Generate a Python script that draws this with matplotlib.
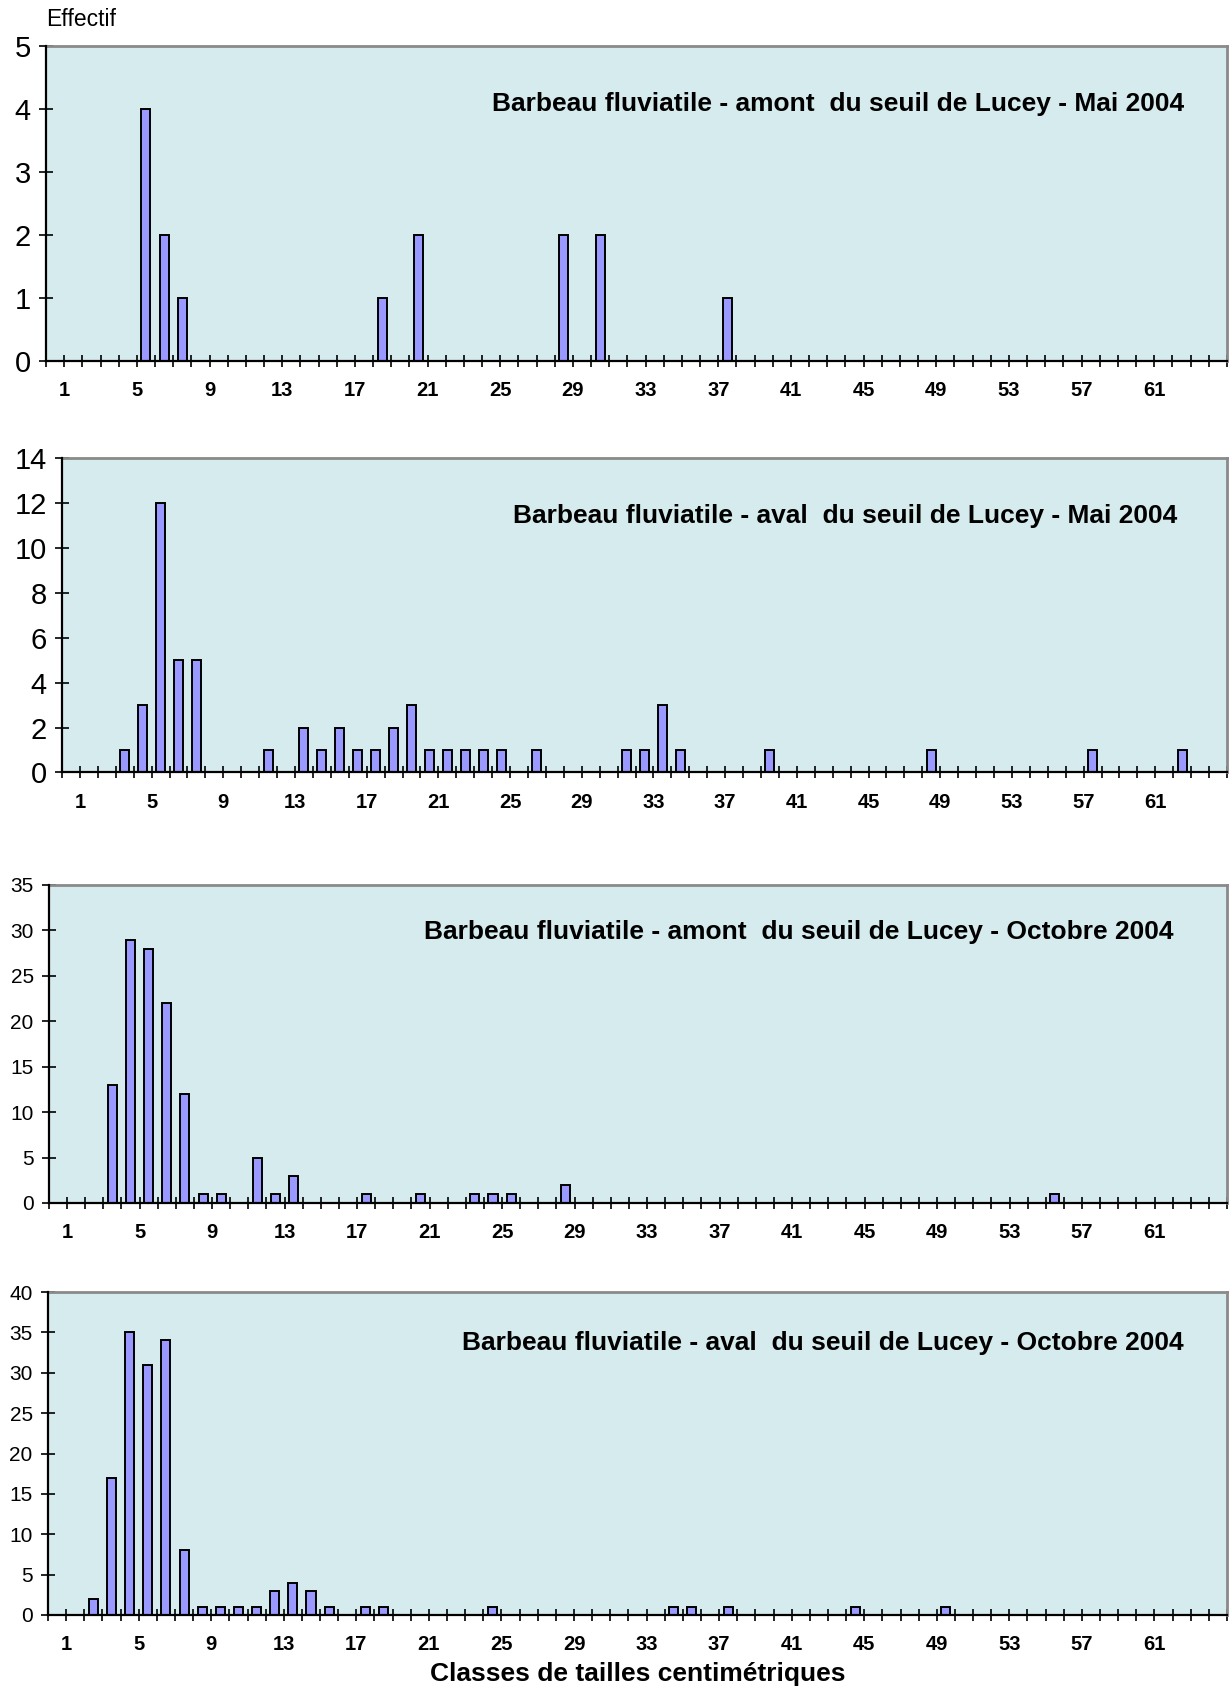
import matplotlib.pyplot as plt

plt.rcParams['font.family'] = ['Liberation Sans', 'DejaVu Sans']

# classes de taille (position de la barre = classe + 0.5) et effectifs
amont_mai_classes = [5, 6, 7, 18, 20, 28, 30, 37]
amont_mai_effectifs = [4, 2, 1, 1, 2, 2, 2, 1]

aval_mai_classes = [3, 4, 5, 6, 7, 11, 13, 14, 15, 16, 17, 18, 19, 20, 21, 22, 23, 24, 26,
                    31, 32, 33, 34, 39, 48, 57, 62]
aval_mai_effectifs = [1, 3, 12, 5, 5, 1, 2, 1, 2, 1, 1, 2, 3, 1, 1, 1, 1, 1, 1,
                      1, 1, 3, 1, 1, 1, 1, 1]

amont_oct_classes = [3, 4, 5, 6, 7, 8, 9, 11, 12, 13, 17, 20, 23, 24, 25, 28, 55]
amont_oct_effectifs = [13, 29, 28, 22, 12, 1, 1, 5, 1, 3, 1, 1, 1, 1, 1, 2, 1]

aval_oct_classes = [2, 3, 4, 5, 6, 7, 8, 9, 10, 11, 12, 13, 14, 15, 17, 18, 24,
                    34, 35, 37, 44, 49]
aval_oct_effectifs = [2, 17, 35, 31, 34, 8, 1, 1, 1, 1, 3, 4, 3, 1, 1, 1, 1,
                      1, 1, 1, 1, 1]

titres = ["Barbeau fluviatile - amont  du seuil de Lucey - Mai 2004",
          "Barbeau fluviatile - aval  du seuil de Lucey - Mai 2004",
          "Barbeau fluviatile - amont  du seuil de Lucey - Octobre 2004",
          "Barbeau fluviatile - aval  du seuil de Lucey - Octobre 2004"]
x_labels = [str(v) for v in range(1, 62, 4)]
y_max = [5, 14, 35, 40]
y_step = [1, 2, 5, 5]

W, H = 1230, 1687
# (left, top, bottom) in pixels, right edge shared
boxes = [(46, 46, 360.5), (62, 458, 772.5), (49, 885, 1203), (48, 1292, 1615)]
right = 1227
title_right = [1184, 1177, 1173, 1184]
title_y = [104, 516, 932, 1343]
ytick_size = [21, 21, 15, 15]

series = [(amont_mai_classes, amont_mai_effectifs),
          (aval_mai_classes, aval_mai_effectifs),
          (amont_oct_classes, amont_oct_effectifs),
          (aval_oct_classes, aval_oct_effectifs)]

fig = plt.figure(figsize=(W / 100, H / 100), dpi=100)

for i, (cls, eff) in enumerate(series):
    left, top, bottom = boxes[i]
    ax = fig.add_axes([left / W, 1 - bottom / H, (right - left) / W, (bottom - top) / H])
    ax.set_facecolor('#D6EBEE')
    ax.bar([c + 0.5 for c in cls], eff, width=0.5, color='#9999FF',
           edgecolor='black', linewidth=1.4, zorder=3)
    ax.set_xlim(0, 65)
    ax.set_ylim(0, y_max[i])
    ax.set_xticks(range(1, 62, 4))
    ax.set_xticklabels(x_labels, fontweight='bold', fontsize=14.5)
    ax.set_xticks(range(0, 66), minor=True)
    ax.set_yticks(range(0, y_max[i] + 1, y_step[i]))
    ax.tick_params(axis='x', which='both', direction='inout', length=9, width=1.2,
                   color='black', pad=10)
    ax.tick_params(axis='y', direction='inout', length=10, width=1.2, pad=6,
                   labelsize=ytick_size[i])
    for s in ['top', 'right']:
        ax.spines[s].set_color('#8a8a8a')
        ax.spines[s].set_linewidth(2)
    for s in ['left', 'bottom']:
        ax.spines[s].set_color('black')
        ax.spines[s].set_linewidth(1.6)
        ax.spines[s].set_zorder(4)
    ax.text((title_right[i] - left) / (right - left), (bottom - title_y[i]) / (bottom - top),
            titres[i], transform=ax.transAxes, ha='right', va='center',
            fontsize=19, fontweight='bold')

fig.text(46 / W, 1 - 19 / H, 'Effectif', ha='left', va='center', fontsize=16.5)
fig.text(638 / W, 1 - 1674 / H, 'Classes de tailles centimétriques', ha='center',
         va='center', fontsize=19, fontweight='bold')

fig.savefig('out.png', dpi=100)
